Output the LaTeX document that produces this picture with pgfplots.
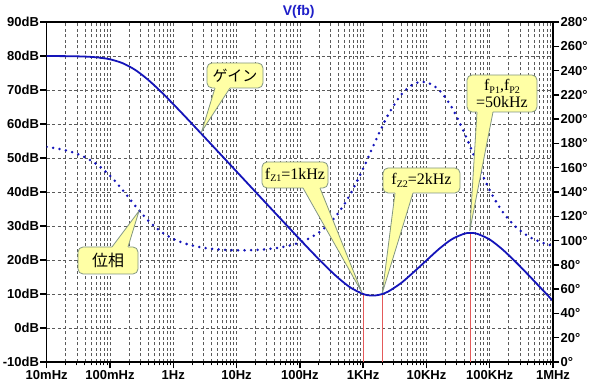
\documentclass[border=0pt]{standalone}
\usepackage{fontspec}
\setmainfont{Liberation Sans}
\newfontfamily\jp{Noto Sans CJK JP}
\newfontfamily\tms{Liberation Serif}
\usepackage{pgfplots}
\usepackage{pgfplotstable}
\pgfplotsset{compat=1.18}
\definecolor{curve}{RGB}{20,20,185}
\definecolor{ttl}{RGB}{30,30,200}
\definecolor{redl}{RGB}{228,90,90}
\definecolor{cfill}{RGB}{255,255,165}
\definecolor{cborder}{RGB}{130,150,130}
\definecolor{gridc}{RGB}{90,90,90}

\pgfplotstableread{
f g p
0.01 79.99 177.14
0.01585 79.97 175.47
0.02512 79.93 172.84
0.03981 79.83 168.74
0.0631 79.59 162.49
0.1 79.03 153.43
0.1585 77.88 141.60
0.2512 75.89 128.53
0.3981 73.04 116.67
0.631 69.60 107.60
1 65.85 101.40
1.585 61.95 97.33
2.512 57.99 94.77
3.981 54.01 93.22
6.31 50.02 92.36
10 46.02 91.99
15.85 42.02 92.05
25.12 38.02 92.56
39.81 34.03 93.62
63.1 30.04 95.46
100 26.07 98.45
158.5 22.15 103.25
251.2 18.35 110.73
398.1 14.83 122.08
631 11.89 138.33
1000 10.00 159.29
1259 9.59 170.85
1585 9.59 182.52
2000 9.99 193.85
2512 10.76 204.01
3981 13.22 220.13
6310 16.46 229.03
10000 19.87 230.36
15850 23.26 224.02
25120 26.09 209.82
39810 27.75 188.61
50000 27.97 176.56
63100 27.72 164.07
100000 26.02 141.41
158500 23.13 123.94
251200 19.62 111.82
398100 15.82 103.89
631000 11.90 98.79
1000000 7.94 95.56
}\bode

\newcommand{\tfont}{\bfseries\fontsize{13}{13}\selectfont}

\begin{document}
\begin{tikzpicture}
\path[use as bounding box] (-46.7pt,-28pt) rectangle (545.3pt,362pt);
\begin{axis}[
  at={(0pt,0pt)}, anchor=south west, scale only axis,
  width=506.3pt, height=340pt,
  xmode=log, xmin=0.01, xmax=1e6, ymin=-10, ymax=90,
  xtick={1e-2,1e-1,1,1e1,1e2,1e3,1e4,1e5,1e6},
  xticklabels={10mHz,100mHz,1Hz,10Hz,100Hz,1KHz,10KHz,100KHz,1MHz},
  minor xtick={2e-2,3e-2,4e-2,5e-2,6e-2,7e-2,8e-2,9e-2,
    2e-1,3e-1,4e-1,5e-1,6e-1,7e-1,8e-1,9e-1,
    2,3,4,5,6,7,8,9,20,30,40,50,60,70,80,90,
    200,300,400,500,600,700,800,900,
    2e3,3e3,4e3,5e3,6e3,7e3,8e3,9e3,
    2e4,3e4,4e4,5e4,6e4,7e4,8e4,9e4,
    2e5,3e5,4e5,5e5,6e5,7e5,8e5,9e5},
  ytick={-10,0,10,20,30,40,50,60,70,80,90},
  yticklabels={-10dB,0dB,10dB,20dB,30dB,40dB,50dB,60dB,70dB,80dB,90dB},
  xtick pos=bottom, ytick pos=left,
  tick align=outside,
  major tick length=6.5pt, minor tick length=3.5pt,
  major tick style={black, line width=1.4pt},
  minor tick style={black, line width=0.8pt},
  grid=both,
  major grid style={gridc, line width=0.6pt, dash pattern=on 3pt off 2.5pt},
  minor grid style={gridc, line width=0.6pt, dash pattern=on 3pt off 2.5pt},
  axis line style={black, line width=1.6pt},
  every tick label/.append style={font=\tfont},
  /pgf/number format/assume math mode=true,
  xticklabel style={inner sep=2pt},
  yticklabel style={inner sep=1pt},
]
\addplot[redl, line width=1pt] coordinates {(1000,-10) (1000,9.8)};
\addplot[redl, line width=1pt] coordinates {(2000,-10) (2000,9.8)};
\addplot[redl, line width=1pt] coordinates {(50000,-10) (50000,27.8)};
\addplot[curve, line width=1.8pt, smooth] table[x=f,y=g]{\bode};
\end{axis}
\begin{axis}[
  at={(0pt,0pt)}, anchor=south west, scale only axis,
  width=506.3pt, height=340pt,
  xmode=log, xmin=0.01, xmax=1e6, ymin=0, ymax=280,
  axis x line=none, axis y line*=right,
  y axis line style={-, black, line width=1.6pt},
  ytick={0,20,40,60,80,100,120,140,160,180,200,220,240,260,280},
  yticklabels={0°,20°,40°,60°,80°,100°,120°,140°,160°,180°,200°,220°,240°,260°,280°},
  tick align=outside, major tick length=6.5pt,
  major tick style={black, line width=1.4pt},
  every tick label/.append style={font=\tfont},
  /pgf/number format/assume math mode=true,
  yticklabel style={inner sep=1pt},
]
\addplot[curve, line width=2.8pt, line cap=round, dash pattern=on 0pt off 6.5pt, smooth] table[x=f,y=p]{\bode};
\end{axis}

\node[font=\bfseries\fontsize{14}{14}\selectfont, text=ttl] at (252pt,350pt) {V(fb)};

% callout: gain
\filldraw[fill=cfill, draw=cborder, line width=0.8pt, rounded corners=5pt] (160.3pt,274pt) rectangle (216.3pt,299pt);
\fill[cfill] (168.3pt,274.8pt) -- (155pt,230.5pt) -- (183.3pt,274.8pt) -- cycle;
\draw[cborder, line width=0.8pt] (168.3pt,274pt) -- (155pt,230.5pt) -- (183.3pt,274pt);
\node[font=\jp\fontsize{15}{15}\selectfont] at (188.3pt,286.5pt) {ゲイン};

% callout: phase
\filldraw[fill=cfill, draw=cborder, line width=0.8pt, rounded corners=5pt] (31.3pt,88pt) rectangle (91.3pt,115pt);
\fill[cfill] (65.3pt,114.2pt) -- (92.3pt,151pt) -- (81.3pt,114.2pt) -- cycle;
\draw[cborder, line width=0.8pt] (65.3pt,115pt) -- (92.3pt,151pt) -- (81.3pt,115pt);
\node[font=\jp\fontsize{16}{16}\selectfont] at (61.3pt,101.5pt) {位相};

% callout: fz1
\filldraw[fill=cfill, draw=cborder, line width=0.8pt, rounded corners=5pt] (215.3pt,174pt) rectangle (281.3pt,200pt);
\fill[cfill] (256.3pt,174.8pt) -- (315.5pt,69pt) -- (273.3pt,174.8pt) -- cycle;
\draw[cborder, line width=0.8pt] (256.3pt,174pt) -- (315.5pt,69pt) -- (273.3pt,174pt);
\node[font=\tms\fontsize{16}{16}\selectfont] at (248.3pt,187pt) {f\raisebox{-0.35ex}{\fontsize{10}{10}\selectfont Z1}=1kHz};

% callout: fz2
\filldraw[fill=cfill, draw=cborder, line width=0.8pt, rounded corners=5pt] (336.3pt,169pt) rectangle (413.3pt,194pt);
\fill[cfill] (348.3pt,169.8pt) -- (335.6pt,69pt) -- (366.3pt,169.8pt) -- cycle;
\draw[cborder, line width=0.8pt] (348.3pt,169pt) -- (335.6pt,69pt) -- (366.3pt,169pt);
\node[font=\tms\fontsize{16}{16}\selectfont] at (374.8pt,181.5pt) {f\raisebox{-0.35ex}{\fontsize{10}{10}\selectfont Z2}=2kHz};

% callout: fp
\filldraw[fill=cfill, draw=cborder, line width=0.8pt, rounded corners=5pt] (420.3pt,250pt) rectangle (490.3pt,287pt);
\fill[cfill] (430.3pt,250.8pt) -- (423pt,131pt) -- (446.3pt,250.8pt) -- cycle;
\draw[cborder, line width=0.8pt] (430.3pt,250pt) -- (423pt,131pt) -- (446.3pt,250pt);
\node[font=\tms\fontsize{16}{17}\selectfont, align=center] at (455.3pt,268.5pt) {f\raisebox{-0.35ex}{\fontsize{10}{10}\selectfont P1},f\raisebox{-0.35ex}{\fontsize{10}{10}\selectfont P2}\\=50kHz};
\end{tikzpicture}
\end{document}
